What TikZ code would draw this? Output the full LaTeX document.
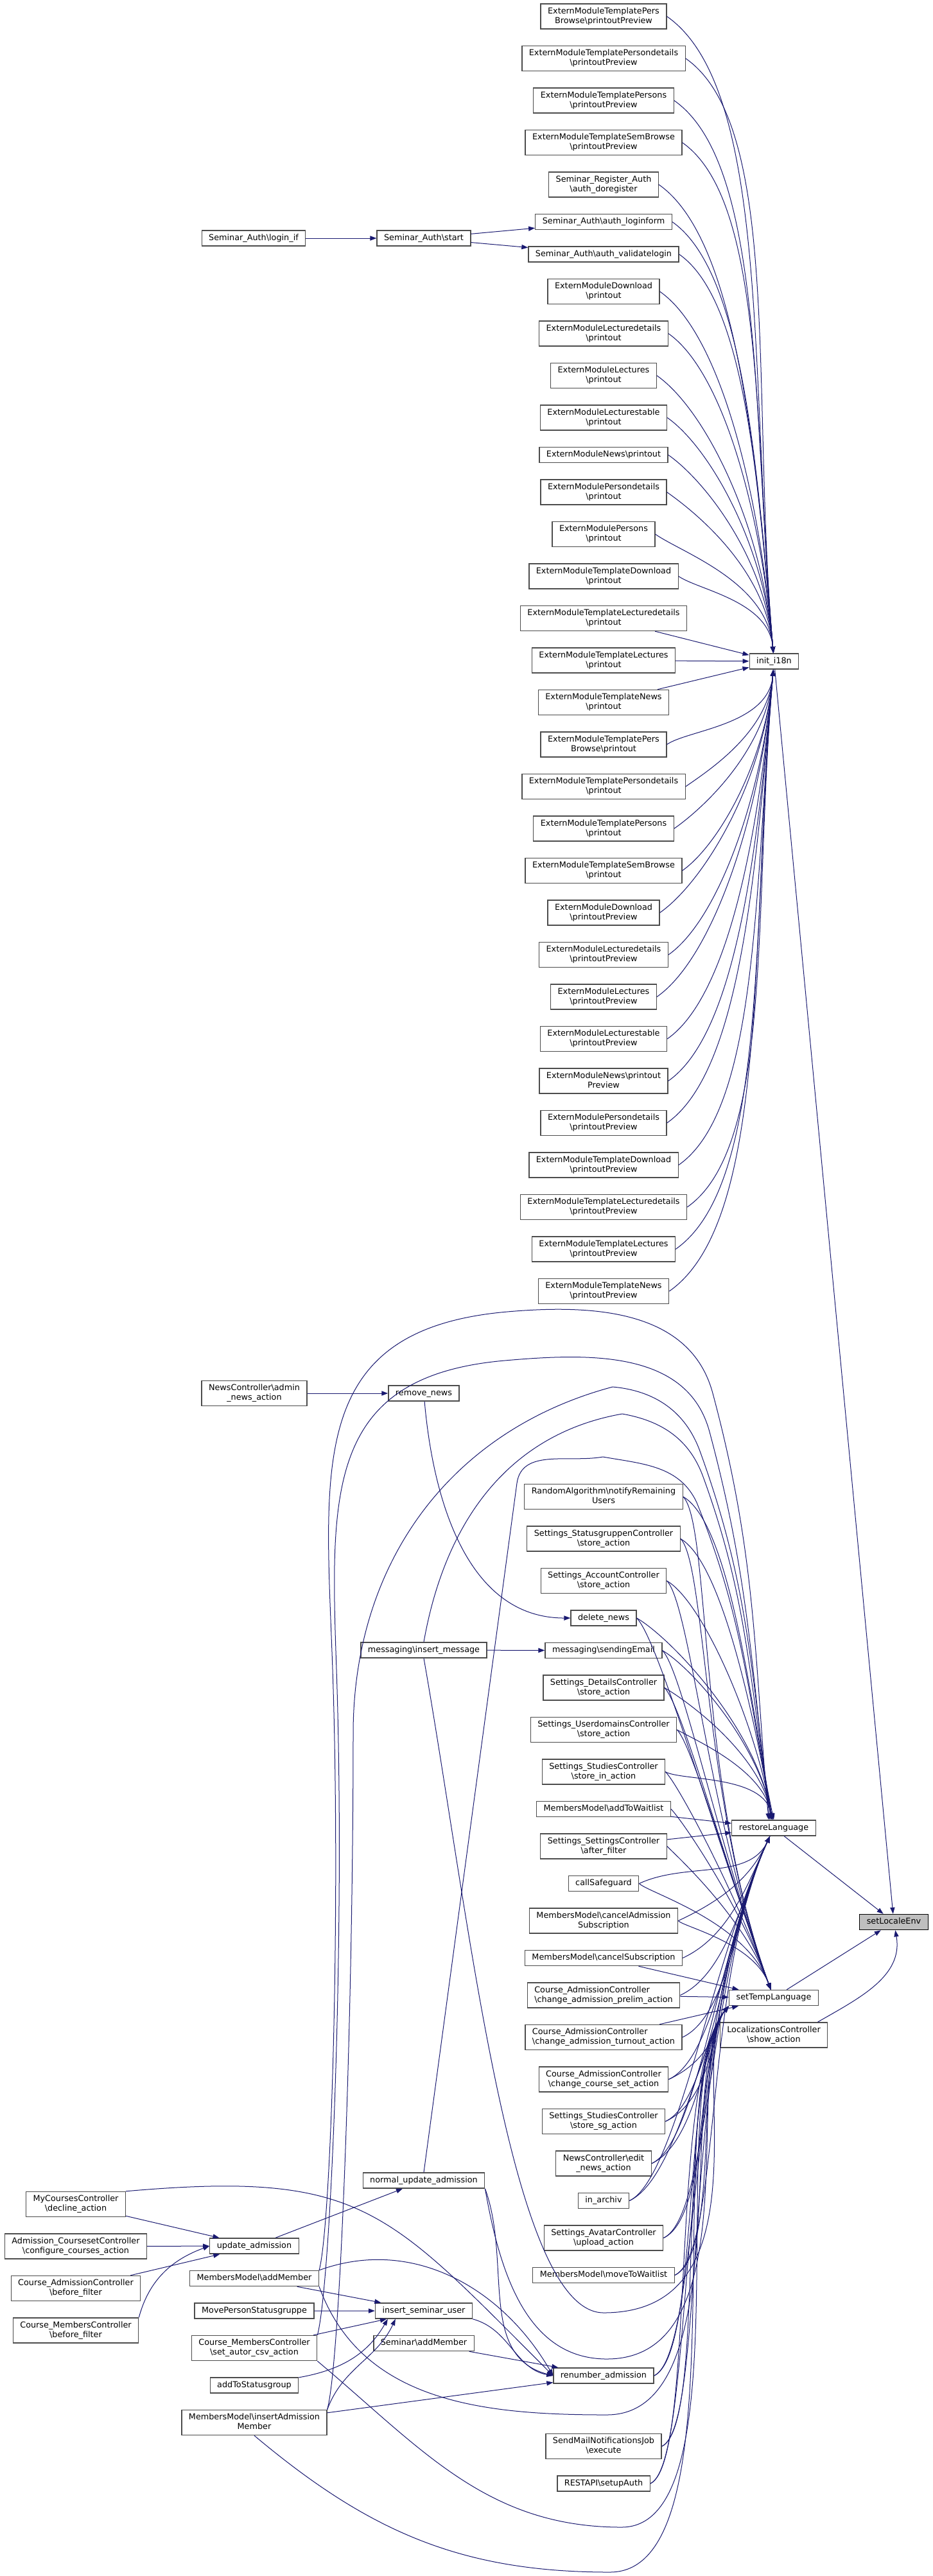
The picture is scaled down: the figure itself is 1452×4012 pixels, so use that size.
\documentclass[tikz,border=0pt]{standalone}
\usepackage{fontspec}
\setmainfont{DejaVu Sans}
\usetikzlibrary{positioning,arrows.meta}
\definecolor{callblue}{HTML}{191970}
\definecolor{rootfill}{HTML}{BFBFBF}
\newcommand{\lbr}{\strut\\\strut}

\begin{document}
\begin{tikzpicture}[x=0.5pt,y=0.5pt,node distance=12.5pt,
    >={Triangle[length=5pt,width=3.6pt]},
    fn/.style={draw=black!70,line width=0.65pt,fill=white,align=center,
      inner xsep=5.5pt,inner ysep=2.3pt,font=\fontsize{6.4}{7.5}\selectfont,
      execute at begin node=\strut},
    root/.style={fn,draw=black,fill=rootfill},
    every edge/.append style={draw=callblue,line width=0.5pt},
    call/.style={->,draw=callblue,line width=0.5pt},
    dninit/.style={out=-35,in=95,out looseness=0.5,in looseness=1.1},
    upinit/.style={out=35,in=-95,out looseness=0.5,in looseness=1.1},
    dnrl/.style={out=-30,in=100,out looseness=0.4,in looseness=1},
    uprl/.style={out=25,in=-115,out distance=40pt,in looseness=0.9},
    dnstl/.style={out=-45,in=110,out looseness=0.2,in looseness=1.1},
    upstl/.style={out=25,in=-130,out distance=40pt,in looseness=0.5}]

\useasboundingbox (0,0) rectangle (1452,-4012);

\node[root] (sle) at (1392,-2993.5) {setLocaleEnv};
\node[fn] (init) at (1205.5,-1030) {init\_i18n};
\node[fn] (rl) at (1205,-2847) {restoreLanguage};
\node[fn] (stl) at (1205,-3111.5) {setTempLanguage};
\node[fn] (loc) [below=of stl] {LocalizationsController\lbr \textbackslash show\_action};

\node[fn] (tpbpp) at (940,-25.5) {ExternModuleTemplatePers\lbr Browse\textbackslash printoutPreview};
\node[fn] (tpdpp) [below=of tpbpp] {ExternModuleTemplatePersondetails\lbr \textbackslash printoutPreview};
\node[fn] (tppp) [below=of tpdpp] {ExternModuleTemplatePersons\lbr \textbackslash printoutPreview};
\node[fn] (tsbpp) [below=of tppp] {ExternModuleTemplateSemBrowse\lbr \textbackslash printoutPreview};
\node[fn] (sra) [below=of tsbpp] {Seminar\_Register\_Auth\lbr \textbackslash auth\_doregister};
\node[fn] (salf) [below=of sra] {Seminar\_Auth\textbackslash auth\_loginform};
\node[fn] (savl) [below=of salf] {Seminar\_Auth\textbackslash auth\_validatelogin};
\node[fn] (dlp) [below=of savl] {ExternModuleDownload\lbr \textbackslash printout};
\node[fn] (ldp) [below=of dlp] {ExternModuleLecturedetails\lbr \textbackslash printout};
\node[fn] (lp) [below=of ldp] {ExternModuleLectures\lbr \textbackslash printout};
\node[fn] (ltp) [below=of lp] {ExternModuleLecturestable\lbr \textbackslash printout};
\node[fn] (np) [below=of ltp] {ExternModuleNews\textbackslash printout};
\node[fn] (pdp) [below=of np] {ExternModulePersondetails\lbr \textbackslash printout};
\node[fn] (pp) [below=of pdp] {ExternModulePersons\lbr \textbackslash printout};
\node[fn] (tdlp) [below=of pp] {ExternModuleTemplateDownload\lbr \textbackslash printout};
\node[fn] (tldp) [below=of tdlp] {ExternModuleTemplateLecturedetails\lbr \textbackslash printout};
\node[fn] (tlp) [below=of tldp] {ExternModuleTemplateLectures\lbr \textbackslash printout};
\node[fn] (tnp) [below=of tlp] {ExternModuleTemplateNews\lbr \textbackslash printout};
\node[fn] (tpbp) [below=of tnp] {ExternModuleTemplatePers\lbr Browse\textbackslash printout};
\node[fn] (tpdp) [below=of tpbp] {ExternModuleTemplatePersondetails\lbr \textbackslash printout};
\node[fn] (tpp) [below=of tpdp] {ExternModuleTemplatePersons\lbr \textbackslash printout};
\node[fn] (tsbp) [below=of tpp] {ExternModuleTemplateSemBrowse\lbr \textbackslash printout};
\node[fn] (dlpp) [below=of tsbp] {ExternModuleDownload\lbr \textbackslash printoutPreview};
\node[fn] (ldpp) [below=of dlpp] {ExternModuleLecturedetails\lbr \textbackslash printoutPreview};
\node[fn] (lpp) [below=of ldpp] {ExternModuleLectures\lbr \textbackslash printoutPreview};
\node[fn] (ltpp) [below=of lpp] {ExternModuleLecturestable\lbr \textbackslash printoutPreview};
\node[fn] (npp) [below=of ltpp] {ExternModuleNews\textbackslash printout\lbr Preview};
\node[fn] (pdpp) [below=of npp] {ExternModulePersondetails\lbr \textbackslash printoutPreview};
\node[fn] (tdlpp) [below=of pdpp] {ExternModuleTemplateDownload\lbr \textbackslash printoutPreview};
\node[fn] (tldpp) [below=of tdlpp] {ExternModuleTemplateLecturedetails\lbr \textbackslash printoutPreview};
\node[fn] (tlpp) [below=of tldpp] {ExternModuleTemplateLectures\lbr \textbackslash printoutPreview};
\node[fn] (tnpp) [below=of tlpp] {ExternModuleTemplateNews\lbr \textbackslash printoutPreview};

\node[fn] (sas) at (660,-371) {Seminar\_Auth\textbackslash start};
\node[fn] (lif) at (395,-371) {Seminar\_Auth\textbackslash login\_if};

\node[fn] (rmn) at (660,-2170) {remove\_news};
\node[fn] (nca) at (396,-2170) {NewsController\textbackslash admin\lbr \_news\_action};
\node[fn] (ime) at (660,-2570) {messaging\textbackslash insert\_message};

\node[fn] (ra) at (940,-2331) {RandomAlgorithm\textbackslash notifyRemaining\lbr Users};
\node[fn] (sgc) [below=of ra] {Settings\_StatusgruppenController\lbr \textbackslash store\_action};
\node[fn] (acc) [below=of sgc] {Settings\_AccountController\lbr \textbackslash store\_action};
\node[fn] (dln) [below=of acc] {delete\_news};
\node[fn] (se) [below=of dln] {messaging\textbackslash sendingEmail};
\node[fn] (dtc) [below=of se] {Settings\_DetailsController\lbr \textbackslash store\_action};
\node[fn] (udc) [below=of dtc] {Settings\_UserdomainsController\lbr \textbackslash store\_action};
\node[fn] (sic) [below=of udc] {Settings\_StudiesController\lbr \textbackslash store\_in\_action};
\node[fn] (atw) [below=of sic] {MembersModel\textbackslash addToWaitlist};
\node[fn] (saf) [below=of atw] {Settings\_SettingsController\lbr \textbackslash after\_filter};
\node[fn] (csg) [below=of saf] {callSafeguard};
\node[fn] (cas) [below=of csg] {MembersModel\textbackslash cancelAdmission\lbr Subscription};
\node[fn] (csb) [below=of cas] {MembersModel\textbackslash cancelSubscription};
\node[fn,align=left] (cap) [below=of csb] {Course\_AdmissionController\lbr \textbackslash change\_admission\_prelim\_action};
\node[fn,align=left] (cat) [below=of cap] {Course\_AdmissionController\lbr \textbackslash change\_admission\_turnout\_action};
\node[fn] (ccs) [below=of cat] {Course\_AdmissionController\lbr \textbackslash change\_course\_set\_action};
\node[fn] (ssg) [below=of ccs] {Settings\_StudiesController\lbr \textbackslash store\_sg\_action};
\node[fn] (ena) [below=of ssg] {NewsController\textbackslash edit\lbr \_news\_action};
\node[fn] (iar) [below=of ena] {in\_archiv};
\node[fn] (avc) [below=of iar] {Settings\_AvatarController\lbr \textbackslash upload\_action};
\node[fn] (mtw) [below=of avc] {MembersModel\textbackslash moveToWaitlist};
\node[fn] (ren) at (940,-3700) {renumber\_admission};
\node[fn] (smj) [below=38.5pt of ren] {SendMailNotificationsJob\lbr \textbackslash execute};
\node[fn] (rsa) [below=of smj] {RESTAPI\textbackslash setupAuth};

\node[fn] (nua) at (660,-3396) {normal\_update\_admission};
\node[fn] (ua) at (396,-3498) {update\_admission};
\node[fn] (am) [below=of ua] {MembersModel\textbackslash addMember};
\node[fn] (mps) [below=of am] {MovePersonStatusgruppe};
\node[fn] (sac) [below=of mps] {Course\_MembersController\lbr \textbackslash set\_autor\_csv\_action};
\node[fn] (ats) [below=of sac] {addToStatusgroup};
\node[fn] (iam) [below=of ats] {MembersModel\textbackslash insertAdmission\lbr Member};
\node[fn] (isu) at (660,-3599) {insert\_seminar\_user};
\node[fn] (sam) [below=of isu] {Seminar\textbackslash addMember};
\node[fn] (dec) at (118,-3433) {MyCoursesController\lbr \textbackslash decline\_action};
\node[fn] (ccc) [below=of dec] {Admission\_CoursesetController\lbr \textbackslash configure\_courses\_action};
\node[fn] (cab) [below=of ccc] {Course\_AdmissionController\lbr \textbackslash before\_filter};
\node[fn] (cmb) [below=of cab] {Course\_MembersController\lbr \textbackslash before\_filter};

\foreach \n in {tpbpp,tpdpp,tppp,tsbpp,sra,salf,savl,dlp,ldp,lp,ltp,np,pdp,pp,tdlp}
  \path[->] (\n.east) edge[dninit] (init);
\foreach \n in {tldp,tlp,tnp}
  \path[->] (\n) edge (init);
\foreach \n in {tpbp,tpdp,tpp,tsbp,dlpp,ldpp,lpp,ltpp,npp,pdpp,tdlpp,tldpp,tlpp,tnpp}
  \path[->] (\n.east) edge[upinit] (init);

\path[->] (init) edge (sle)
          (rl) edge (sle)
          (stl) edge (sle)
          ([xshift=-8pt]loc.north east) edge[out=30,in=-80] (sle);

\foreach \n in {ra,sgc,acc,dln,se,dtc,udc,sic}
  \path[->] (\n.east) edge[dnrl] (rl)
            (\n.east) edge[dnstl] (stl);
\foreach \n in {atw,saf}
  \path[->] (\n) edge (rl)
            (\n.east) edge[dnstl] (stl);
\foreach \n in {csg,cas}
  \path[->] (\n.east) edge[uprl] (rl)
            (\n.east) edge[dnstl] (stl);
\foreach \n in {csb,cap,cat}
  \path[->] (\n.east) edge[uprl] (rl)
            (\n) edge (stl);
\foreach \n in {ccs,ssg,ena,iar,avc,mtw,ren,smj,rsa}
  \path[->] (\n.east) edge[uprl] (rl)
            (\n.east) edge[upstl] (stl.south west);

\path[->] (lif) edge (sas)
          (sas) edge (salf)
          (sas) edge (savl)
          (nca) edge (rmn)
          (rmn) edge[out=-85,in=180] (dln)
          (ime) edge (se)
          (ua) edge (nua)
          (dec) edge (ua)
          (ccc) edge (ua)
          (cab) edge (ua)
          (cmb.north east) edge[out=75,in=200] (ua.west)
          (am) edge (isu)
          (mps) edge (isu)
          (sac) edge (isu)
          (ats) edge[out=10,in=-120] ([xshift=10pt]isu.south west)
          (iam.north east) edge[out=70,in=-115] ([xshift=16pt]isu.south west)
          (isu.south east) edge[out=-15,in=170] (ren.west)
          (sam) edge (ren)
          (iam) edge (ren)
          (nua.south east) edge[out=-70,in=165] (ren.west)
          (am.north east) edge[out=20,in=120] (ren.west)
          (dec.north east) edge[out=5,in=135,looseness=1.3] (ren.west);

\draw[call] (am.north east) to[out=75,in=-88,out looseness=0.2] (518,-2600)
  to[out=92,in=185,looseness=1.3] (790,-2043) to[out=5,in=105] (1110,-2170)
  to[out=-75,in=95] ([xshift=-4pt]rl.north);
\draw[call] (sac.north east) to[out=75,in=-88,out looseness=0.2] (524,-2600)
  to[out=92,in=185,looseness=1.3] (786,-2119) to[out=5,in=105] (1105,-2230)
  to[out=-75,in=97] ([xshift=-3pt]rl.north);
\draw[call] (iam.north east) to[out=75,in=-90,out looseness=0.2] (550,-2700)
  to[out=90,in=195] (954,-2160) to[out=-5,in=110] (1090,-2260)
  to[out=-70,in=98] ([xshift=-2pt]rl.north);
\draw[call] (ime.north) to[out=80,in=190] (969,-2202) to[out=-10,in=110] (1095,-2300)
  to[out=-70,in=100] ([xshift=-1pt]rl.north);
\draw[call] (nua.north) -- (805,-2310) to[out=82,in=190] (939,-2269)
  to[out=-10,in=115] (1085,-2340) to[out=-68,in=102] (rl.north);

\draw[call] (ime.south) to[out=-80,in=180,in looseness=0.35] (940,-3602)
  to[out=0,in=-130,out looseness=1.3,in looseness=0.5] (stl.south west);
\draw[call] (nua.south east) to[out=-80,in=180] (945,-3674)
  to[out=0,in=-130,in looseness=0.5] (stl.south west);
\draw[call] (am.south east) to[out=-70,in=180] (945,-3761)
  to[out=0,in=-130,out looseness=0.8,in looseness=0.5] (stl.south west);
\draw[call] (sac.south east) to[out=-40,in=180] (968,-3936)
  to[out=0,in=-130,out looseness=0.6,in looseness=0.5] (stl.south west);
\draw[call] (iam.south) to[out=-40,in=180] (950,-4006)
  to[out=0,in=-130,out looseness=0.6,in looseness=0.5] (stl.south west);
\end{tikzpicture}
\end{document}
